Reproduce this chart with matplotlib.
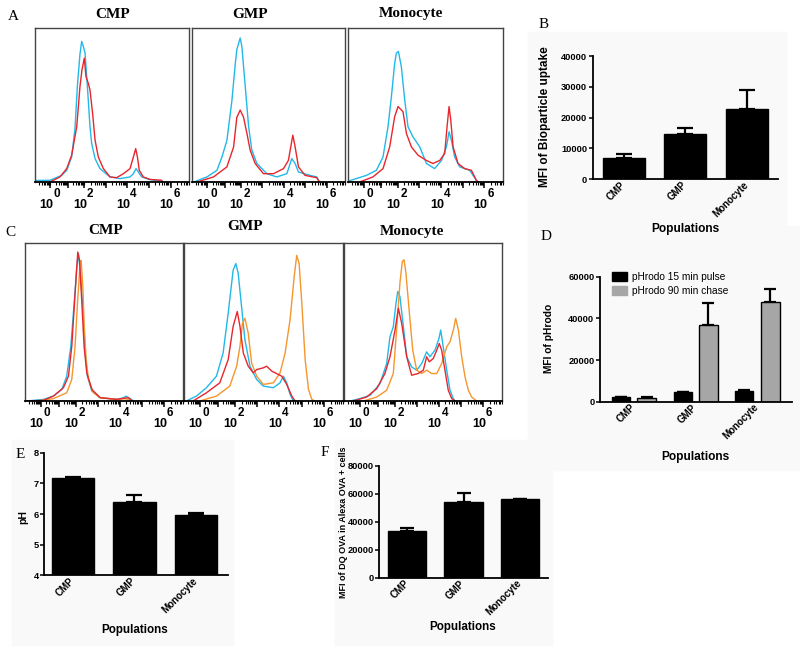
import numpy as np
import matplotlib.pyplot as plt
from matplotlib.patches import Rectangle

# ---- flow histograms (x, y in % of the plot box) ----
A_CMP_cyan_x = [0.6, 9.7, 17.3, 20.6, 23.8, 26.0, 27.5, 29.2, 30.3, 31.4, 32.5, 33.1, 34.0, 34.6, 35.7, 36.8, 39.0, 42.2, 48.7, 55.2, 61.7, 63.9, 65.6, 67.1, 69.3, 74.7, 82.3]
A_CMP_cyan_y = [1, 1.1, 4.3, 7.6, 16.3, 35, 62, 83, 91.3, 88, 83.7, 75, 62, 53.3, 35.9, 25, 15.2, 8.7, 3.3, 2.2, 3.3, 5.4, 8.7, 6.5, 3.3, 1.5, 0.4]
A_CMP_red_x = [9.7, 16.2, 20.6, 23.8, 27.1, 29.2, 30.5, 32.0, 33.1, 34.6, 35.7, 37.4, 39.0, 41.1, 44.4, 48.7, 53.0, 57.4, 61.7, 63.9, 65.4, 66.5, 67.7, 70.3, 74.7, 82.3, 82.9]
A_CMP_red_y = [0, 3.3, 8.7, 17.4, 35.9, 62, 72.8, 80.4, 68.5, 64.1, 59.8, 44.6, 27.2, 16.3, 8.7, 3.3, 2.8, 5.4, 8.7, 16.3, 21.7, 16.3, 7.6, 3.3, 1.7, 1.1, 0]

A_GMP_cyan_x = [1.1, 9.8, 16.3, 19.6, 22.8, 26.1, 28.3, 29.3, 31.5, 32.6, 34.8, 37.0, 39.1, 42.4, 48.9, 55.4, 62.0, 65.2, 67.4, 69.6, 77.2, 81.5, 83.3]
A_GMP_cyan_y = [0, 3.3, 7.6, 16.3, 27, 53, 77, 86, 93.5, 88, 62, 36, 20.7, 12, 5.4, 3.3, 5.4, 15.2, 12, 6.5, 4.3, 3.3, 0]
A_GMP_red_x = [3.3, 14.1, 22.8, 27.2, 29.3, 31.5, 33.7, 35.9, 38.0, 41.3, 46.7, 53.3, 59.8, 63.0, 65.9, 67.4, 69.6, 73.9, 81.5, 83.3]
A_GMP_red_y = [0, 3.3, 9.8, 22.8, 42, 46.7, 42, 31.5, 20.7, 12, 5.4, 5.4, 8.7, 14, 30.4, 22.8, 9.8, 4.3, 2.8, 0]

A_Mono_cyan_x = [0, 11.9, 18.3, 22.6, 25.8, 28.0, 30.1, 31.2, 32.5, 34.4, 36.6, 38.7, 41.9, 46.3, 50.6, 55.9, 60.3, 63.5, 65.2, 66.7, 68.8, 72.1, 78.5, 82.8, 84]
A_Mono_cyan_y = [0.5, 4.3, 7.6, 16.3, 35.9, 55.4, 77, 83.7, 84.8, 75, 53.3, 35.9, 29.3, 22.8, 12, 8.7, 14, 22.8, 32.6, 27.2, 16.3, 9.8, 7.6, 1.1, 0]
A_Mono_red_x = [7.5, 16.1, 22.6, 26.9, 30.1, 32.3, 35.5, 37.7, 40.9, 45.2, 50.6, 54.8, 59.2, 62.4, 63.9, 65.2, 66.3, 67.8, 71.0, 75.3, 79.6, 82.8, 84]
A_Mono_red_y = [0, 3.3, 8.7, 22.8, 42.4, 49, 45.6, 31.5, 22.8, 17.4, 14, 12, 14, 18.5, 35.9, 49, 40.2, 22.8, 12, 8.7, 7.6, 1.1, 0]

C_CMP_cyan_x = [1, 11.6, 18, 23.3, 26.4, 29, 31.1, 32.8, 33.8, 34.9, 36.6, 38.1, 39.5, 42.3, 47.6, 58.1, 62.4, 64, 66.6, 68.7]
C_CMP_cyan_y = [0, 1, 3.1, 7.3, 15.7, 34.6, 61.8, 85, 93.3, 82.8, 59.7, 30.4, 15.7, 6.3, 2.1, 1, 2.1, 3.1, 1.5, 0]
C_CMP_red_x = [0, 11.6, 18, 24.3, 27.5, 29.6, 31.7, 33.4, 34.5, 36, 37.4, 39.1, 42.3, 47.6, 58.1, 62.4, 65.5, 67.7]
C_CMP_red_y = [0, 0.4, 3.1, 8.4, 15.7, 34.6, 68, 94.3, 89, 61.8, 34.6, 17.8, 7.3, 2.1, 1, 1.7, 2.1, 0]
C_CMP_orange_x = [7.4, 18, 26.4, 29.6, 31.7, 33.2, 34.9, 35.5, 36.6, 37.4, 38.7, 40.2, 43.3, 47.6, 58.1, 63.4, 67.7]
C_CMP_orange_y = [0, 1.5, 5.2, 13.6, 34.6, 61.8, 87, 89, 72.3, 49.3, 26.2, 13.6, 5.2, 2.1, 1, 1.5, 0]

C_GMP_cyan_x = [1.5, 7.8, 14.1, 20.4, 24.6, 27.8, 30.9, 32.6, 34.1, 36.2, 38.3, 41.5, 45.7, 49.9, 56.2, 60.4, 62.5, 64.6, 66.7, 68.8]
C_GMP_cyan_y = [0, 3.1, 8.4, 15.7, 30.4, 55.6, 82.8, 87, 80.7, 59.7, 38.8, 22, 13.6, 9.4, 8.4, 11.5, 15.7, 11.5, 4.2, 0]
C_GMP_red_x = [5.7, 14.1, 22.5, 27.8, 30.9, 33.5, 35.2, 37.3, 40.4, 43.6, 45.7, 49.9, 52, 55.2, 59.4, 61.5, 64.6, 67.8, 69.9]
C_GMP_red_y = [0, 5.2, 11.5, 26.2, 47.2, 56.6, 47.2, 30.4, 22, 17.8, 19.9, 21, 22, 18.9, 16.8, 15.7, 10.5, 3.1, 0]
C_GMP_orange_x = [9.9, 20.4, 28.8, 33.1, 35.2, 36.8, 38.3, 40.4, 42.5, 45.7, 49.9, 56.2, 60.4, 63.6, 66.7, 69.3, 70.9, 72.4, 74.1, 76.2, 78.3, 80.4, 82.5]
C_GMP_orange_y = [0, 3.1, 9.4, 22, 34.6, 49.3, 52.4, 43, 24.1, 15.7, 10.5, 11.5, 17.8, 30.4, 51.4, 78.6, 92.2, 87, 61.8, 26.2, 7.3, 1, 0]

C_Mono_cyan_x = [3.8, 10.1, 16.5, 22.8, 27, 29.1, 31.2, 32.9, 34, 35.4, 37.6, 39.7, 42.8, 46, 49.2, 52.3, 54.4, 57.6, 60.1, 61.2, 62.8, 65, 67.1, 69.2, 70.3]
C_Mono_cyan_y = [0, 1.5, 3.6, 11, 23.7, 40.7, 47, 61.9, 69.3, 66.1, 47, 28, 21.6, 19.5, 23.7, 31.1, 28, 32.2, 39.6, 44.9, 34.3, 19.5, 6.8, 1.5, 0]
C_Mono_red_x = [5.9, 14.3, 20.7, 25.9, 29.1, 32.3, 34.4, 36.5, 39.7, 42.8, 47, 50.2, 52.3, 54, 56.5, 58.7, 60.3, 61.8, 63.9, 66, 68.2, 70.3]
C_Mono_red_y = [0, 2.5, 7.8, 17.4, 28, 44.9, 58.7, 49.2, 28, 16.3, 17.4, 19.5, 28, 24.8, 26.9, 32.2, 36.4, 32.2, 19.5, 6.8, 1.5, 0]
C_Mono_orange_x = [12.2, 20.7, 27, 31.2, 33.3, 35.4, 36.9, 38, 39.2, 41.4, 43.5, 46, 49.2, 52.3, 55.5, 58.7, 61.8, 65, 67.1, 69.2, 70.7, 72.4, 74.5, 76.6, 78.7, 80.8, 84]
C_Mono_orange_y = [0, 2.5, 6.8, 17.4, 44.9, 74.6, 88.3, 89.4, 80.9, 55.5, 32.2, 19.5, 17.4, 19.5, 17.4, 17.4, 23.7, 34.3, 37.5, 44.9, 52.3, 44.9, 28, 15.3, 6.8, 2.5, 0]

hist_titles = ["CMP", "GMP", "Monocyte"]
decade_pos = [10, 21.5, 32, 46, 60, 74, 88]
decade_labels = ["0", "2", "4", "6"]

# ---- bar charts ----
populations = ["CMP", "GMP", "Monocyte"]
B_mfi = [6800, 14600, 22700]
B_err = [1400, 1950, 6300]
D_pulse = [2100, 4500, 5300]
D_pulse_err = [300, 300, 100]
D_chase = [2000, 36700, 47700]
D_chase_err = [300, 10700, 6400]
E_ph = [7.16, 6.40, 5.96]
E_err = [0.05, 0.22, 0.06]
F_mfi = [33400, 54300, 56400]
F_err = [1900, 6000, 0]

CYAN = "#22b8e8"
RED = "#e8262c"
ORANGE = "#f5962e"
SANS = "Liberation Sans"
SERIF = "Liberation Serif"

W, H = 800, 648
fig = plt.figure(figsize=(8, 6.48), dpi=100)


def rect(l, t, r, b):
    return [l / W, 1 - b / H, (r - l) / W, (b - t) / H]


def ftext(x, y, s, **kw):
    fig.text(x / W, 1 - y / H, s, **kw)


# faint grey backgrounds behind the pasted bar-chart images
for l, t, r, b in [(528, 32, 786, 238), (528, 226, 800, 470), (12, 440, 233, 645), (335, 440, 552, 645)]:
    fig.patches.append(Rectangle((l / W, 1 - b / H), (r - l) / W, (b - t) / H,
                                 transform=fig.transFigure, color="#f9f9f9", zorder=-10))


def hist_panel(box, curves):
    ax = fig.add_axes(rect(*box))
    for x, y, c in curves:
        ax.plot(x, y, color=c, lw=1.0)
    ax.set_xlim(0, 100)
    ax.set_ylim(0, 100)
    ax.set_yticks([])
    for s in ["top", "left", "right"]:
        ax.spines[s].set_color("#444444")
        ax.spines[s].set_linewidth(1.0)
    ax.spines["bottom"].set_linewidth(1.3)
    # decade ticks and log minor ticks
    edges = [decade_pos[0] - 11] + decade_pos + [decade_pos[-1] + 14]
    minor = []
    for p0, p1 in zip(edges[:-1], edges[1:]):
        minor += [p0 + np.log10(k) * (p1 - p0) for k in range(2, 10)]
    minor = [m for m in minor if 0 < m < 100]
    ax.set_xticks(decade_pos)
    ax.set_xticklabels([])
    ax.set_xticks(minor, minor=True)
    ax.tick_params(axis="x", which="major", length=4, width=1.1, direction="out")
    ax.tick_params(axis="x", which="minor", length=2, width=0.8, direction="out")
    for pos, e in zip(decade_pos[::2], decade_labels):
        ax.annotate("10", xy=(pos, 0), xycoords=("data", "axes fraction"),
                    xytext=(2, -18.5), textcoords="offset points", ha="right",
                    va="baseline", fontsize=9, fontweight="bold", family=SANS,
                    annotation_clip=False)
        ax.annotate(e, xy=(pos, 0), xycoords=("data", "axes fraction"),
                    xytext=(2, -10.5), textcoords="offset points", ha="left",
                    va="baseline", fontsize=8.5, fontweight="bold", family=SANS,
                    annotation_clip=False)
    return ax


a_boxes = [(35, 28, 189, 182), (192, 28, 345, 182), (348, 28, 503, 182)]
a_curves = [
    [(A_CMP_cyan_x, A_CMP_cyan_y, CYAN), (A_CMP_red_x, A_CMP_red_y, RED)],
    [(A_GMP_cyan_x, A_GMP_cyan_y, CYAN), (A_GMP_red_x, A_GMP_red_y, RED)],
    [(A_Mono_cyan_x, A_Mono_cyan_y, CYAN), (A_Mono_red_x, A_Mono_red_y, RED)],
]
for box, cv in zip(a_boxes, a_curves):
    hist_panel(box, cv)

c_boxes = [(25, 243, 183, 401), (184, 243, 343, 401), (344, 243, 502, 401)]
c_curves = [
    [(C_CMP_cyan_x, C_CMP_cyan_y, CYAN), (C_CMP_orange_x, C_CMP_orange_y, ORANGE), (C_CMP_red_x, C_CMP_red_y, RED)],
    [(C_GMP_cyan_x, C_GMP_cyan_y, CYAN), (C_GMP_orange_x, C_GMP_orange_y, ORANGE), (C_GMP_red_x, C_GMP_red_y, RED)],
    [(C_Mono_cyan_x, C_Mono_cyan_y, CYAN), (C_Mono_orange_x, C_Mono_orange_y, ORANGE), (C_Mono_red_x, C_Mono_red_y, RED)],
]
for box, cv in zip(c_boxes, c_curves):
    hist_panel(box, cv)

for (x, y), t in zip([(113, 14), (250, 14), (411, 13)], hist_titles):
    ftext(x, y, t, ha="center", va="center", fontsize=11, fontweight="bold", family=SERIF)
for (x, y), t in zip([(106, 231), (245, 227), (412, 232)], hist_titles):
    ftext(x, y, t, ha="center", va="center", fontsize=11, fontweight="bold", family=SERIF)


def bar_axes(box, ylim, yticks):
    ax = fig.add_axes(rect(*box))
    ax.patch.set_alpha(0)
    ax.set_ylim(*ylim)
    ax.set_yticks(yticks)
    for s in ["top", "right"]:
        ax.spines[s].set_visible(False)
    for s in ["left", "bottom"]:
        ax.spines[s].set_linewidth(1.3)
    ax.tick_params(axis="y", length=3, width=1.1, pad=1)
    ax.tick_params(axis="x", length=0, pad=3)
    for lab in ax.get_yticklabels():
        lab.set_fontsize(6.7)
        lab.set_fontweight("bold")
        lab.set_family(SANS)
    return ax


def set_cats(ax, pos):
    ax.set_xticks(pos)
    ax.set_xticklabels(populations, rotation=45, ha="right", va="center",
                       rotation_mode="anchor", fontsize=7, fontweight="bold", family=SANS)


def draw_bars(ax, pos, vals, errs, width, color, capsize):
    ax.bar(pos, vals, width=width, color=color, edgecolor="black", linewidth=1.0, zorder=2)
    lower = [0] * len(vals)
    ax.errorbar(pos, vals, yerr=[lower, errs], fmt="none", ecolor="black",
                elinewidth=1.6, capsize=capsize, capthick=1.6, zorder=1)


x3 = np.arange(len(populations))

# B
axB = bar_axes((592.7, 56, 778, 179.3), (0, 40000), [0, 10000, 20000, 30000, 40000])
draw_bars(axB, x3, B_mfi, B_err, 0.68, "black", 5.8)
axB.set_xlim(-0.51, 2.51)
set_cats(axB, x3)
ftext(545, 117, "MFI of Bioparticle uptake", rotation=90, ha="center", va="center",
      fontsize=8.5, fontweight="bold", family=SANS)
ftext(685, 229, "Populations", ha="center", va="center", fontsize=8.6, fontweight="bold", family=SANS)

# D
axD = bar_axes((600, 276.7, 791.7, 401.7), (0, 60000), [0, 20000, 40000, 60000])
draw_bars(axD, x3 - 0.21, D_pulse, D_pulse_err, 0.29, "black", 4.0)
draw_bars(axD, x3 + 0.21, D_chase, D_chase_err, 0.31, "#a6a6a6", 4.0)
axD.set_xlim(-0.55, 2.56)
set_cats(axD, x3)
axD.legend(handles=[Rectangle((0, 0), 1, 1, color="black"), Rectangle((0, 0), 1, 1, color="#a6a6a6")],
           labels=["pHrodo 15 min pulse", "pHrodo 90 min chase"], loc="upper left",
           bbox_to_anchor=(0.04, 1.07), frameon=False, prop={"family": SANS, "size": 7.3},
           handlelength=1.5, handleheight=0.9, handletextpad=0.5, labelspacing=0.4, borderaxespad=0)
ftext(549, 338, "MFI of pHrodo", rotation=90, ha="center", va="center",
      fontsize=7.4, fontweight="bold", family=SANS)
ftext(695, 457, "Populations", ha="center", va="center", fontsize=8.6, fontweight="bold", family=SANS)

# E
axE = bar_axes((44.3, 452.7, 227.7, 575.3), (4, 8), [4, 5, 6, 7, 8])
draw_bars(axE, x3, E_ph, E_err, 0.69, "black", 5.8)
axE.set_xlim(-0.47, 2.52)
set_cats(axE, x3)
ftext(23, 517, "pH", rotation=90, ha="center", va="center", fontsize=7.5, fontweight="bold", family=SANS)
ftext(135, 630, "Populations", ha="center", va="center", fontsize=8.4, fontweight="bold", family=SANS)

# F
axF = bar_axes((379.3, 465.7, 547.7, 577.7), (0, 80000), [0, 20000, 40000, 60000, 80000])
draw_bars(axF, x3, F_mfi, F_err, 0.68, "black", 5.2)
axF.set_xlim(-0.50, 2.50)
set_cats(axF, x3)
ftext(343, 522, "MFI of DQ OVA in Alexa OVA + cells", rotation=90, ha="center", va="center",
      fontsize=6.5, fontweight="bold", family=SANS)
ftext(463, 627, "Populations", ha="center", va="center", fontsize=8.4, fontweight="bold", family=SANS)

# panel letters
for (x, y), t in zip([(13, 17), (544, 25), (10, 232), (546, 237), (20, 455), (325, 453)],
                     ["A", "B", "C", "D", "E", "F"]):
    ftext(x, y, t, ha="center", va="center", fontsize=11, family=SERIF)

fig.savefig("out.png", dpi=100)
